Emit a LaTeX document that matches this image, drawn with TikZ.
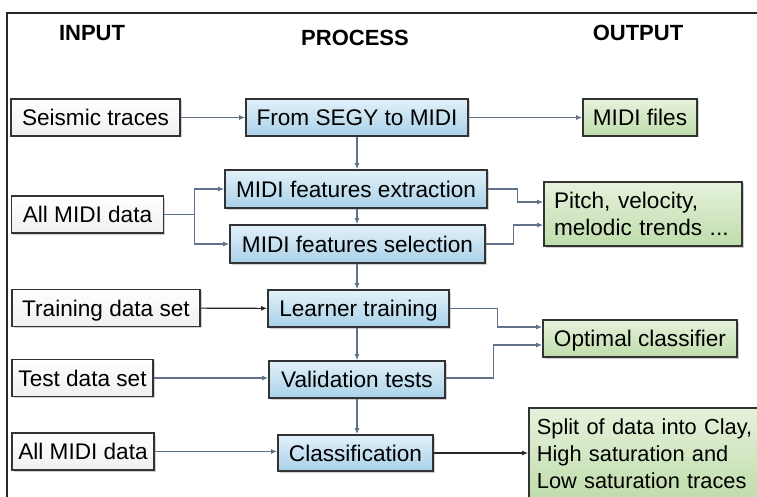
\documentclass[tikz,border=0pt]{standalone}
\usepackage{fontspec}
\setmainfont{Liberation Sans}
\usetikzlibrary{arrows.meta,shadows}
\definecolor{edgec}{HTML}{333333}
\definecolor{connc}{HTML}{5F7289}
\definecolor{procTop}{HTML}{E2F1FA}
\definecolor{procBot}{HTML}{A9D1E8}
\definecolor{outTop}{HTML}{E6F2DC}
\definecolor{outBot}{HTML}{BFDCAA}
\begin{document}
\begin{tikzpicture}[x=1pt,y=-1pt,
  font=\fontsize{22.6}{27}\selectfont,
  basebox/.style={draw=edgec, line width=1.8pt,
    drop shadow={shadow xshift=1.5pt, shadow yshift=-1.5pt, opacity=0.3, fill=black!60}},
  box/.style={basebox, inner sep=0pt, minimum height=37pt, text height=16pt, text depth=0pt},
  inbox/.style={box, top color=white, bottom color=black!6},
  probox/.style={box, top color=procTop, bottom color=procBot},
  outbox/.style={box, top color=outTop, bottom color=outBot},
  multibox/.style={basebox, top color=outTop, bottom color=outBot, align=left, inner xsep=10pt},
  head/.style={font=\fontsize{22}{26}\selectfont\bfseries},
  conn/.style={draw=connc, line width=1.1pt, -{Latex[length=6pt,width=5pt]}},
  connd/.style={conn, draw=black!85},
  line/.style={draw=connc, line width=1.1pt}]
\useasboundingbox (0,0) rectangle (757,497);
\clip (0,0) rectangle (757,497);
\fill[white] (0,0) rectangle (757,497);
\draw[line width=1.3pt, black!85] (7,500) -- (7,13) -- (760,13);

% headers
\node[head] (hin) at (92,33) {INPUT};
\node[head] (hpro) at (355,38) {PROCESS};
\node[head] (hout) at (638,33) {OUTPUT};

% input column
\node[inbox, minimum width=169pt] (seis) at (95.5,117.5) {Seismic traces};
\node[inbox, minimum width=152pt] (all1) at (87.5,214.5) {All MIDI data};
\node[inbox, minimum width=188pt] (train) at (106,308) {Training data set};
\node[inbox, minimum width=141pt] (test) at (82.5,378) {Test data set};
\node[inbox, minimum width=142pt] (all2) at (83,451.5) {All MIDI data};

% process column
\node[probox, minimum width=222pt] (segy) at (357,117.5) {From SEGY to MIDI};
\node[probox, minimum width=262pt, minimum height=38pt] (extr) at (356,189) {MIDI features extraction};
\node[probox, minimum width=255pt, minimum height=38pt] (sel) at (357.5,244) {MIDI features selection};
\node[probox, minimum width=181pt] (learn) at (358.5,308.5) {Learner training};
\node[probox, minimum width=176pt] (valid) at (357,379.5) {Validation tests};
\node[probox, minimum width=155pt, minimum height=36pt] (classif) at (355.5,453) {Classification};

% output column
\node[outbox, minimum width=114pt] (mfiles) at (640,117.5) {MIDI files};
\node[multibox, text width=178pt, minimum height=64pt] (pitch) at (643,214) {Pitch, velocity,\\melodic trends ...};
\node[outbox, minimum width=194pt] (opt) at (640,338.5) {Optimal classifier};
\node[multibox, font=\fontsize{21.8}{27}\selectfont, text width=234pt, inner xsep=8pt, inner ysep=11pt, anchor=north west] (split) at (528,407)
  {Split of data into Clay,\\High saturation and\\Low saturation traces};

% connectors
\draw[conn] (seis) -- (segy);
\draw[conn] (segy) -- (mfiles);
\draw[conn] (segy.south -| 357,0) -- (extr.north -| 357,0);
\draw[line] (all1.east) -- ++(30,0) coordinate (br);
\draw[conn] (br) |- (extr.west);
\draw[conn] (br) |- (sel.west);
\draw[conn] (extr.east) -- ++(30,0) |- ([yshift=12pt]pitch.west);
\draw[conn] (sel.east) -- ++(28,0) |- ([yshift=-11pt]pitch.west);
\draw[conn] (extr.south -| 357,0) -- (sel.north -| 357,0);
\draw[conn] (sel.south -| 357,0) -- (learn.north -| 357,0);
\draw[connd] (train) -- (learn);
\draw[conn] (learn.east) -- ++(48,0) |- ([yshift=11.5pt]opt.west);
\draw[conn] (learn.south -| 357,0) -- (valid.north -| 357,0);
\draw[conn] (test) -- (valid.west |- test.east);
\draw[conn] ([yshift=1.5pt]valid.east) -- ++(48,0) |- ([yshift=-6.5pt]opt.west);
\draw[conn] (valid.south -| 357,0) -- (classif.north -| 357,0);
\draw[conn] (all2) -- (classif.west |- all2.east);
\draw[connd] (classif.east) -- (classif.east -| split.west);
\end{tikzpicture}
\end{document}
